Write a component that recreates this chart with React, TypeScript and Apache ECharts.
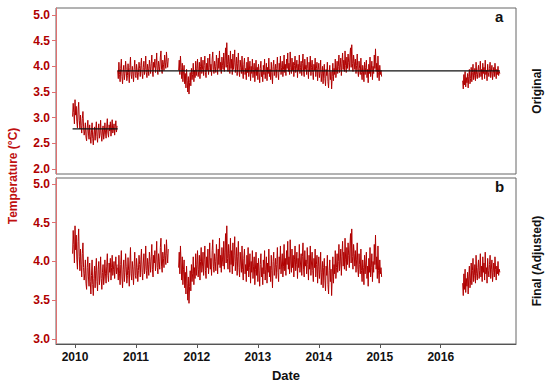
import React, { useEffect, useRef } from "react";
import * as echarts from "echarts";

// Time step between consecutive readings (years)
const STEP = 0.01;

// Segment start dates (decimal years)
const seg1Start = 2009.96;
const seg2Start = 2010.7;
const seg3Start = 2011.7;
const seg5Start = 2016.36;

// Original segment 1 (before adjustment)
const seg1Original = [
  3.02, 3.28, 3.10, 2.88, 3.35, 3.05, 3.22, 2.92, 2.80, 3.15,
  3.30, 2.95, 2.78, 3.05, 2.85, 2.70, 2.98, 3.12, 2.82, 2.66,
  2.74, 2.90, 2.62, 2.55, 2.80, 2.95, 2.70, 2.58, 2.86, 2.64,
  2.50, 2.72, 2.90, 2.60, 2.47, 2.68, 2.82, 2.56, 2.76, 2.92,
  2.63, 2.52, 2.78, 2.88, 2.60, 2.70, 2.95, 2.66, 2.54, 2.74,
  2.84, 2.58, 2.68, 2.90, 2.72, 2.60, 2.82, 2.98, 2.70, 2.62,
  2.86, 2.74, 2.92, 2.64, 2.80, 2.96, 2.70, 2.78, 2.88, 2.66,
  2.82, 2.94, 2.72, 2.84,
];
// Final (adjusted) segment 1
const seg1Adjusted = [
  4.10, 4.40, 4.22, 3.98, 4.46, 4.15, 4.34, 4.02, 3.90, 4.26,
  4.42, 4.06, 3.88, 4.16, 3.96, 3.80, 4.10, 4.24, 3.92, 3.76,
  3.84, 4.02, 3.72, 3.64, 3.92, 4.06, 3.80, 3.68, 3.98, 3.74,
  3.58, 3.82, 4.02, 3.70, 3.56, 3.78, 3.94, 3.66, 3.88, 4.04,
  3.74, 3.62, 3.90, 4.00, 3.70, 3.82, 4.06, 3.78, 3.64, 3.86,
  3.96, 3.70, 3.80, 4.02, 3.84, 3.72, 3.94, 4.10, 3.82, 3.74,
  3.98, 3.86, 4.04, 3.76, 3.92, 4.08, 3.82, 3.90, 4.00, 3.78,
  3.94, 4.06, 3.84, 3.96,
];
const seg2Values = [
  3.92, 3.76, 4.08, 3.84, 3.70, 3.96, 4.14, 3.80, 3.66, 3.90,
  4.02, 3.74, 3.86, 4.10, 3.94, 3.72, 3.82, 4.05, 3.88, 3.68,
  3.98, 4.18, 3.84, 3.76, 4.00, 3.90, 3.70, 3.94, 4.12, 3.82,
  3.78, 4.04, 3.92, 3.74, 3.88, 4.08, 3.96, 3.80, 4.02, 4.16,
  3.86, 3.76, 3.98, 4.10, 3.84, 3.94, 4.20, 3.88, 3.78, 4.04,
  3.96, 3.82, 4.12, 4.00, 3.86, 4.06, 4.22, 3.90, 3.80, 4.08,
  3.98, 4.14, 3.88, 4.02, 4.26, 3.92, 3.84, 4.10, 4.00, 3.90,
  4.18, 4.30, 3.94, 3.86, 4.12, 4.04, 3.92, 4.22, 4.08, 3.96,
  4.28, 4.10, 3.98, 4.16,
];
const seg3Values = [
  3.92, 4.12, 3.84, 4.20, 3.98, 3.76, 4.06, 3.70, 3.90, 4.02,
  3.66, 3.86, 3.58, 3.94, 3.72, 3.50, 3.80, 3.46, 3.68, 3.88,
  3.62, 3.96, 3.74, 3.84, 4.06, 3.70, 3.92, 3.78, 4.10, 3.82,
  3.96, 4.14, 3.80, 3.90, 4.08, 3.76, 4.00, 4.18, 3.86, 3.94,
  4.12, 3.82, 4.02, 4.20, 3.88, 3.78, 4.06, 3.92, 4.16, 3.84,
  3.98, 4.24, 3.90, 4.04, 3.82, 4.14, 4.28, 3.94, 3.86, 4.10,
  4.00, 3.88, 4.22, 4.06, 3.84, 4.16, 3.96, 4.30, 3.92, 4.08,
  3.86, 4.18, 4.02, 3.94, 4.26, 3.90, 4.12, 4.36, 3.98, 4.46,
  4.04, 3.90, 4.22, 4.10, 3.86, 4.30, 3.96, 4.14, 3.84, 4.24,
  3.94, 4.08, 4.32, 3.88, 4.00, 4.18, 3.82, 4.06, 4.26, 3.92,
  3.80, 4.12, 3.98, 3.86, 4.20, 3.90, 3.76, 4.04, 4.16, 3.84,
  3.96, 3.74, 4.08, 3.88, 4.18, 3.80, 3.92, 4.10, 3.72, 4.00,
  3.86, 4.14, 3.78, 3.94, 4.06, 3.70, 3.90, 4.12, 3.82, 3.98,
  3.74, 4.04, 3.88, 3.68, 3.96, 4.10, 3.80, 3.92, 3.70, 4.02,
  3.84, 4.14, 3.76, 3.90, 4.06, 3.72, 3.98, 3.86, 4.16, 3.80,
  3.94, 3.74, 4.08, 3.88, 3.66, 4.00, 4.12, 3.82, 3.92, 4.04,
  3.78, 3.96, 4.18, 3.86, 3.74, 4.06, 3.90, 4.20, 3.84, 3.98,
  4.10, 3.80, 3.94, 4.22, 3.88, 4.04, 3.82, 4.14, 3.96, 4.26,
  3.90, 4.06, 3.84, 4.28, 3.98, 3.86, 4.16, 3.92, 4.08, 3.80,
  4.02, 4.20, 3.88, 3.96, 4.12, 3.78, 4.04, 3.92, 4.22, 3.86,
  3.98, 4.10, 3.82, 4.06, 4.24, 3.90, 3.80, 4.14, 3.94, 4.02,
  3.84, 4.18, 3.96, 3.76, 4.08, 3.90, 4.20, 3.82, 3.98, 4.12,
  3.88, 3.74, 4.04, 3.92, 4.16, 3.80, 3.96, 4.08, 3.72, 3.94,
  4.06, 3.78, 3.90, 4.12, 3.70, 3.86, 4.00, 3.66, 3.92, 4.04,
  3.76, 3.62, 3.94, 3.82, 4.08, 3.70, 3.58, 3.88, 4.02, 3.74,
  3.90, 3.56, 3.80, 4.06, 3.72, 3.96, 3.84, 4.14, 3.78, 3.92,
  4.10, 3.86, 4.00, 4.22, 3.88, 3.98, 4.16, 3.82, 4.06, 4.26,
  3.94, 4.12, 3.90, 4.30, 4.02, 3.88, 4.18, 3.96, 4.24, 4.08,
  3.92, 4.20, 4.36, 3.98, 4.42, 4.06, 3.90, 4.22, 4.10, 3.94,
  4.14, 3.86, 4.02, 4.24, 3.90, 3.80, 4.10, 3.96, 3.84, 4.16,
  3.88, 3.74, 4.02, 3.92, 3.70, 4.08, 3.84, 3.98, 4.12, 3.78,
  3.94, 3.68, 4.04, 3.86, 4.18, 3.80, 3.92, 4.10, 3.74, 4.00,
  3.86, 4.22, 3.96, 4.34, 3.90, 4.06, 3.78, 4.20, 3.88, 3.72,
  4.02, 3.84, 3.92, 3.80,
];
const seg5Values = [
  3.72, 3.56, 3.84, 3.64, 3.90, 3.60, 3.78, 3.68, 3.86, 3.58,
  3.80, 3.94, 3.66, 3.76, 3.98, 3.70, 3.88, 4.04, 3.74, 3.82,
  3.96, 3.72, 4.08, 3.84, 3.76, 3.92, 4.02, 3.78, 3.88, 4.10,
  3.80, 3.94, 3.74, 4.06, 3.86, 3.98, 3.76, 4.12, 3.84, 3.92,
  3.72, 4.04, 3.88, 3.80, 3.96, 4.08, 3.78, 3.90, 4.02, 3.74,
  3.86, 3.98, 3.80, 4.06, 3.90, 3.76, 3.94, 3.84, 4.00, 3.82,
  3.90, 3.86,
];

// Mean lines of the original record
const meanLines = [
  { from: 2009.96, to: 2010.7, value: 2.78 },
  { from: 2010.7, to: 2016.97, value: 3.91 },
];

const yearTicks = [2010, 2011, 2012, 2013, 2014, 2015, 2016];
const topTicks = [2.0, 2.5, 3.0, 3.5, 4.0, 4.5, 5.0];
const bottomTicks = [3.0, 3.5, 4.0, 4.5, 5.0];

const RED = "#b00000";
const LABEL_RED = "#b00000";
const AXIS_RED = "#e07070";

function toPoints(start: number, values: number[]) {
  return values.map((v, i) => [start + i * STEP, v]);
}

export default function App() {
  const ref = useRef<HTMLDivElement>(null);
  useEffect(() => {
    if (!ref.current) return;
    const chart = echarts.init(ref.current, null, { renderer: "svg" });
    const font = "Liberation Sans";

    const xAxisBase = (gridIndex: number, showLabels: boolean) => ({
      type: "value",
      gridIndex,
      min: 2009.688,
      max: 2017.235,
      axisLine: { show: showLabels, onZero: false, lineStyle: { color: "#555", width: 1 } },
      axisTick: { show: showLabels, customValues: yearTicks, length: 4, lineStyle: { color: "#555" } },
      axisLabel: {
        show: showLabels,
        customValues: yearTicks,
        color: "#111",
        fontWeight: "bold",
        fontSize: 12,
        fontFamily: font,
        margin: 7,
        formatter: (v: number) => String(Math.round(v)),
      },
      splitLine: { show: false },
    });

    const yAxisBase = (gridIndex: number, min: number, max: number, ticks: number[]) => ({
      type: "value",
      gridIndex,
      min,
      max,
      axisLine: { show: true, lineStyle: { color: AXIS_RED, width: 1 } },
      axisTick: { show: true, customValues: ticks, length: 4, lineStyle: { color: AXIS_RED } },
      axisLabel: {
        customValues: ticks,
        color: LABEL_RED,
        fontWeight: "bold",
        fontSize: 12,
        fontFamily: font,
        margin: 6,
        formatter: (v: number) => v.toFixed(1),
      },
      splitLine: { show: false },
    });

    const lineSeries = (data: number[][], idx: number, color = RED, width = 1) => ({
      type: "line",
      xAxisIndex: idx,
      yAxisIndex: idx,
      data,
      symbol: "none",
      lineStyle: { color, width },
      silent: true,
    });

    const series: any[] = [
      lineSeries(toPoints(seg1Start, seg1Original), 0),
      lineSeries(toPoints(seg2Start, seg2Values), 0),
      lineSeries(toPoints(seg3Start, seg3Values), 0),
      lineSeries(toPoints(seg5Start, seg5Values), 0),
      ...meanLines.map((m) =>
        lineSeries([[m.from, m.value], [m.to, m.value]], 0, "#111", 1.2)
      ),
      lineSeries(toPoints(seg1Start, seg1Adjusted), 1),
      lineSeries(toPoints(seg2Start, seg2Values), 1),
      lineSeries(toPoints(seg3Start, seg3Values), 1),
      lineSeries(toPoints(seg5Start, seg5Values), 1),
    ];

    chart.setOption({
      animation: false,
      backgroundColor: "#fff",
      grid: [
        { left: 56, right: 34, top: 8, height: 166, show: true, borderColor: "#666", borderWidth: 1 },
        { left: 56, right: 34, top: 178, height: 166, show: true, borderColor: "#666", borderWidth: 1 },
      ],
      xAxis: [xAxisBase(0, false), xAxisBase(1, true)],
      yAxis: [yAxisBase(0, 1.903, 5.136, topTicks), yAxisBase(1, 2.935, 5.077, bottomTicks)],
      series,
      graphic: [
        { type: "text", left: 495, top: 9, style: { text: "a", font: `bold 15px ${font}`, fill: "#111" } },
        { type: "text", left: 495, top: 179, style: { text: "b", font: `bold 15px ${font}`, fill: "#111" } },
        {
          type: "text", x: 537, y: 91, rotation: Math.PI / 2,
          style: { text: "Original", font: `bold 12px ${font}`, fill: "#111", align: "center", verticalAlign: "middle" },
        },
        {
          type: "text", x: 537, y: 261, rotation: Math.PI / 2,
          style: { text: "Final (Adjusted)", font: `bold 12px ${font}`, fill: "#111", align: "center", verticalAlign: "middle" },
        },
        {
          type: "text", x: 13, y: 176, rotation: Math.PI / 2,
          style: { text: "Temperature (°C)", font: `bold 12px ${font}`, fill: "#c01010", align: "center", verticalAlign: "middle" },
        },
        {
          type: "text", x: 286, y: 375,
          style: { text: "Date", font: `bold 13px ${font}`, fill: "#111", align: "center", verticalAlign: "middle" },
        },
      ],
    });
    return () => chart.dispose();
  }, []);
  return <div ref={ref} style={{ width: 550, height: 385, position: "absolute", left: 0, top: 0 }} />;
}
